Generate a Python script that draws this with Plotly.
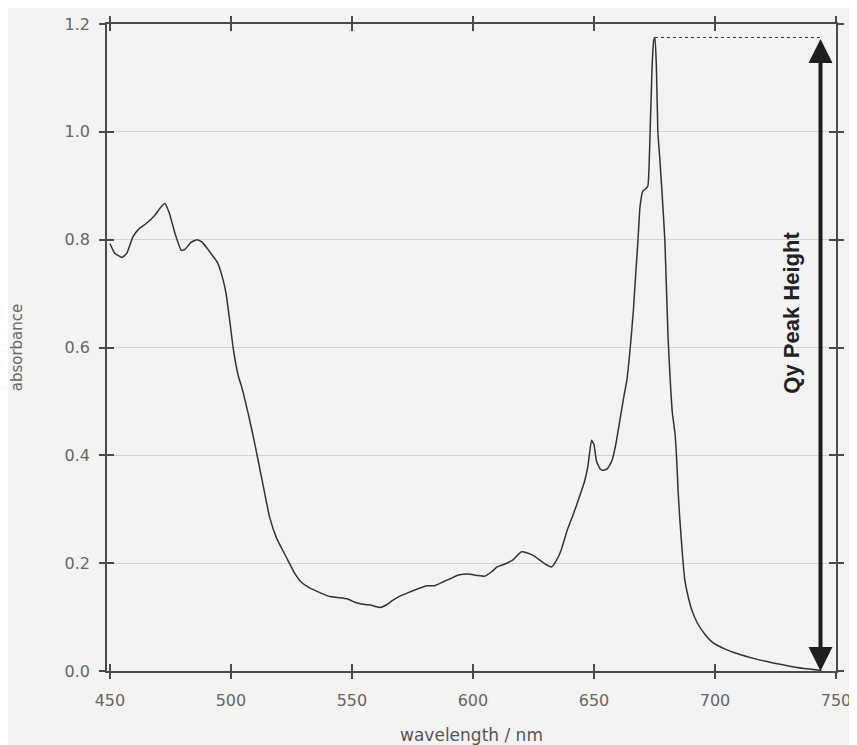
import plotly.graph_objects as go

wavelength = [450, 452, 455, 457, 459.5, 462, 465, 468.5, 471, 472.7, 474.5, 477, 479.5, 481, 483.5, 486,
              488, 490, 492.5, 494.5, 496.5, 498, 499.5, 501, 503, 504.5, 507, 509, 511, 513.5, 516, 519,
              523, 526.5, 529, 532.5, 537, 541, 545, 548, 551, 553, 556, 558, 561.5, 564, 566.5, 569,
              573, 577, 581, 584, 588, 591, 594, 598, 602, 605, 608, 610, 613, 616.5, 620, 622.5,
              625, 627.5, 630, 632.5, 634.5, 636.5, 639, 641, 643, 646, 647.5, 649, 650, 651,
              652.5, 653.7, 655.5, 657.4, 659, 660.7, 662, 663.6, 665, 666.3, 667.3, 668.2, 669, 670.2,
              671.5, 672.3, 673.2, 674, 674.7, 675.2, 675.8, 676.4, 677.2, 678, 679.3, 680.6, 681.5, 682.4,
              683.5, 684.2, 684.8, 685.5, 686.4, 687.5, 688.8, 690.5, 692.6, 695.5, 699, 704, 710, 717,
              724, 731, 738, 744]
absorbance = [0.793, 0.775, 0.767, 0.775, 0.805, 0.82, 0.83, 0.845, 0.86, 0.867, 0.85, 0.81, 0.78, 0.782, 0.795, 0.80,
              0.796, 0.785, 0.77, 0.757, 0.73, 0.70, 0.65, 0.597, 0.548, 0.526, 0.48, 0.44, 0.396, 0.34, 0.285, 0.245,
              0.21, 0.18, 0.165, 0.154, 0.145, 0.138, 0.136, 0.134, 0.128, 0.125, 0.123, 0.122, 0.118, 0.122, 0.13, 0.137,
              0.145, 0.152, 0.158, 0.158, 0.166, 0.172, 0.178, 0.18, 0.177, 0.176, 0.185, 0.193, 0.198, 0.206, 0.221, 0.219,
              0.214, 0.206, 0.198, 0.193, 0.205, 0.225, 0.262, 0.285, 0.31, 0.35, 0.38, 0.428, 0.42, 0.39,
              0.375, 0.372, 0.375, 0.39, 0.42, 0.465, 0.5, 0.54, 0.6, 0.67, 0.74, 0.80, 0.86, 0.89,
              0.895, 0.90, 1.0, 1.12, 1.17, 1.175, 1.12, 1.0, 0.95, 0.896, 0.798, 0.62, 0.54, 0.478,
              0.44, 0.39, 0.33, 0.28, 0.225, 0.17, 0.14, 0.112, 0.09, 0.07, 0.053, 0.041, 0.031, 0.022,
              0.015, 0.009, 0.004, 0.001]

x_ticks = [450, 500, 550, 600, 650, 700, 750]
y_ticks = [0.0, 0.2, 0.4, 0.6, 0.8, 1.0, 1.2]
y_tick_text = ["0.0", "0.2", "0.4", "0.6", "0.8", "1.0", "1.2"]

peak_wl = 675.2
peak_abs = 1.175
arrow_wl = 743.6
label_text = "Qy Peak Height"

bg = "#f3f3f1"
axis_col = "#4a4a4a"
tick_font = dict(family="DejaVu Sans", size=16, color="#666666")

fig = go.Figure()
fig.add_trace(go.Scatter(x=wavelength, y=absorbance, mode="lines",
                         line=dict(color="#333333", width=1.5, shape="spline", smoothing=0.4),
                         showlegend=False))
# dashed guide from the peak to the arrow
fig.add_trace(go.Scatter(x=[peak_wl, arrow_wl], y=[peak_abs, peak_abs], mode="lines",
                         line=dict(color="#333333", width=1, dash="3px,3px"), showlegend=False))
# invisible trace on secondary axes so they render
fig.add_trace(go.Scatter(x=[x_ticks[0]], y=[y_ticks[0]], xaxis="x2", yaxis="y2", mode="markers",
                         marker=dict(opacity=0), showlegend=False, hoverinfo="skip"))

xr = [448.8, 750]
yr = [0, 1.2]

# page body has an 8px default margin, so the figure is sized/offset to compensate
fig.update_layout(
    width=849, height=737,
    margin=dict(l=99, r=21, t=16, b=74),
    paper_bgcolor=bg, plot_bgcolor=bg,
    xaxis=dict(range=xr, tickvals=x_ticks, ticks="outside", ticklen=6, tickwidth=1.5, tickcolor=axis_col,
               showline=True, linecolor=axis_col, linewidth=1.5, mirror="ticks", showgrid=False,
               zeroline=False, tickfont=tick_font, ticklabelstandoff=8, automargin=False,
               title=dict(text="wavelength / nm", font=dict(family="DejaVu Sans", size=17, color="#555555"),
                          standoff=22)),
    yaxis=dict(range=yr, tickvals=y_ticks, ticktext=y_tick_text, ticks="outside", ticklen=6, tickwidth=1.5,
               tickcolor=axis_col, showline=True, linecolor=axis_col, linewidth=1.5, mirror="ticks",
               showgrid=True, gridcolor="#d0d0e4", gridwidth=1, zeroline=False, tickfont=tick_font,
               ticklabelstandoff=6, automargin=False,
               title=dict(text="absorbance", font=dict(family="DejaVu Sans", size=15, color="#666666"),
                          standoff=44)),
    xaxis2=dict(range=xr, tickvals=x_ticks, ticks="inside", ticklen=7, tickwidth=1.5, tickcolor=axis_col,
                overlaying="x", showticklabels=False, showgrid=False, zeroline=False, mirror="ticks",
                showline=False, automargin=False),
    yaxis2=dict(range=yr, tickvals=y_ticks, ticks="inside", ticklen=7, tickwidth=1.5, tickcolor=axis_col,
                overlaying="y", showticklabels=False, showgrid=False, zeroline=False, mirror="ticks",
                showline=False, automargin=False),
)

# double-headed arrow
fig.add_annotation(x=arrow_wl, y=0, ax=arrow_wl, ay=peak_abs, xref="x", yref="y", axref="x", ayref="y",
                   showarrow=True, arrowhead=2, startarrowhead=2, arrowside="end+start", arrowwidth=4,
                   arrowsize=1.2, startarrowsize=1.2, arrowcolor="#1e1e1e", text="")
fig.add_annotation(x=731.5, y=0.665, xref="x", yref="y", text="<b>" + label_text + "</b>", showarrow=False,
                   textangle=-90, font=dict(family="Liberation Sans", size=22, color="#222222"))

fig.write_html("out.html")
